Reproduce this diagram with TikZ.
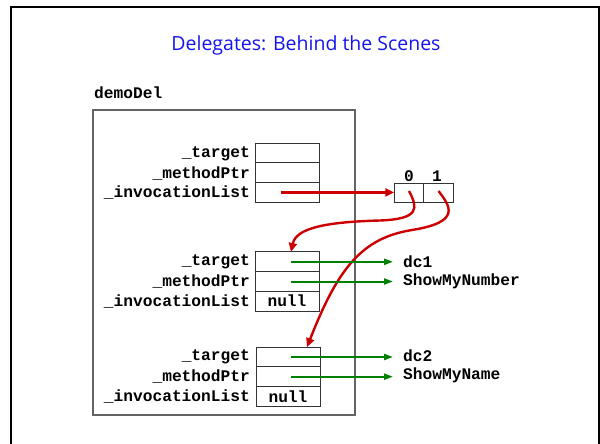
\documentclass[tikz,border=0pt]{standalone}
\usepackage{fontspec}
\setmainfont{Open Sans}
\newfontfamily\codefont{Liberation Mono}
\usetikzlibrary{arrows.meta}
\definecolor{ptrred}{RGB}{204,0,0}
\definecolor{refgreen}{RGB}{0,128,0}
\definecolor{titleblue}{RGB}{20,20,235}
\definecolor{boxgray}{RGB}{100,100,100}
\tikzset{
  code/.style={font=\codefont\bfseries\fontsize{16.2}{18}\selectfont, inner sep=0pt},
  fieldlabel/.style={code, anchor=east},
  cell/.style={draw=black!80, line width=1pt, minimum width=64pt, minimum height=19.7pt,
    inner sep=0pt, outer sep=0pt, code},
  slot/.style={draw=black!80, line width=1pt, minimum width=29.5pt, minimum height=19pt,
    inner sep=0pt, outer sep=0pt},
  redptr/.style={draw=ptrred, line width=2.4pt, -{Triangle[length=9pt,width=8pt]}},
  greenptr/.style={draw=refgreen, line width=2pt, -{Triangle[length=9pt,width=6pt]}},
  target/.style={code, anchor=west},
}
\begin{document}
\begin{tikzpicture}[x=1pt, y=-1pt]
\useasboundingbox (0,0) rectangle (600,444);
% page frame
\draw[line width=2pt] (11,444) -- (11,7) -- (598.5,7) -- (598.5,444);

% title
\node[text=titleblue, font=\fontsize{19.5}{22}\selectfont] (title) at (306,45) {Delegates: Behind the Scenes};

% variable name and enclosing box
\node[code, anchor=west] (varname) at (94,93) {demoDel};
\node[draw=boxgray, line width=1.5pt, minimum width=262pt, minimum height=305pt, inner sep=0pt]
  (frame) at (224,262.5) {};

% delegate object bound to demoDel
\node[cell] (t1) at (287,153) {};
\node[cell, anchor=north] (m1) at (t1.south) {};
\node[cell, anchor=north] (i1) at (m1.south) {};
\node[fieldlabel] (lt1) at (250,153.5) {\_target};
\node[fieldlabel] (lm1) at (250,173) {\_methodPtr};
\node[fieldlabel] (li1) at (250,192.5) {\_invocationList};

% invocation list array
\node[slot] (a0) at (409,193) {};
\node[slot] (a1) at (438.5,193) {};
\node[code] (n0) at (409,176) {0};
\node[code] (n1) at (437,176) {1};

% first delegate in the list
\node[cell] (t2) at (287,261.8) {};
\node[cell, anchor=north] (m2) at (t2.south) {};
\node[cell, anchor=north] (i2) at (m2.south) {null};
\node[fieldlabel] (lt2) at (250,262) {\_target};
\node[fieldlabel] (lm2) at (250,281.5) {\_methodPtr};
\node[fieldlabel] (li2) at (250,301) {\_invocationList};

% second delegate in the list
\node[cell] (t3) at (288,357) {};
\node[cell, anchor=north] (m3) at (t3.south) {};
\node[cell, anchor=north] (i3) at (m3.south) {null};
\node[fieldlabel] (lt3) at (250,357) {\_target};
\node[fieldlabel] (lm3) at (250,376.5) {\_methodPtr};
\node[fieldlabel] (li3) at (250,396) {\_invocationList};

% referenced objects and methods
\node[target] (dc1) at (403,262) {dc1};
\node[target] (num) at (403,281.5) {ShowMyNumber};
\node[target] (dc2) at (403,356) {dc2};
\node[target] (name) at (403,375.5) {ShowMyName};

% red pointers
\draw[redptr] ([xshift=-6pt]i1.center) -- (i1.center -| a0.west);
\draw[redptr] ([yshift=2pt]a0.center) .. controls (418,208) and (420,219) .. (380,220.5)
  .. controls (322,222) and (296,229) .. ([xshift=4pt]t2.north);
\draw[redptr] ([yshift=2pt]a1.center) .. controls (450,206) and (462,222) .. (412,230)
  .. controls (362,238) and (338,268) .. ([xshift=19pt]t3.north);

% green references, kept level with the field they start from
\draw[greenptr] ([xshift=4pt]t2.center) -- ([xshift=-10pt]t2.center -| dc1.west);
\draw[greenptr] ([xshift=4pt]m2.center) -- ([xshift=-10pt]m2.center -| num.west);
\draw[greenptr] ([xshift=3pt]t3.center) -- ([xshift=-10pt]t3.center -| dc2.west);
\draw[greenptr] ([xshift=3pt]m3.center) -- ([xshift=-10pt]m3.center -| name.west);
\end{tikzpicture}
\end{document}
